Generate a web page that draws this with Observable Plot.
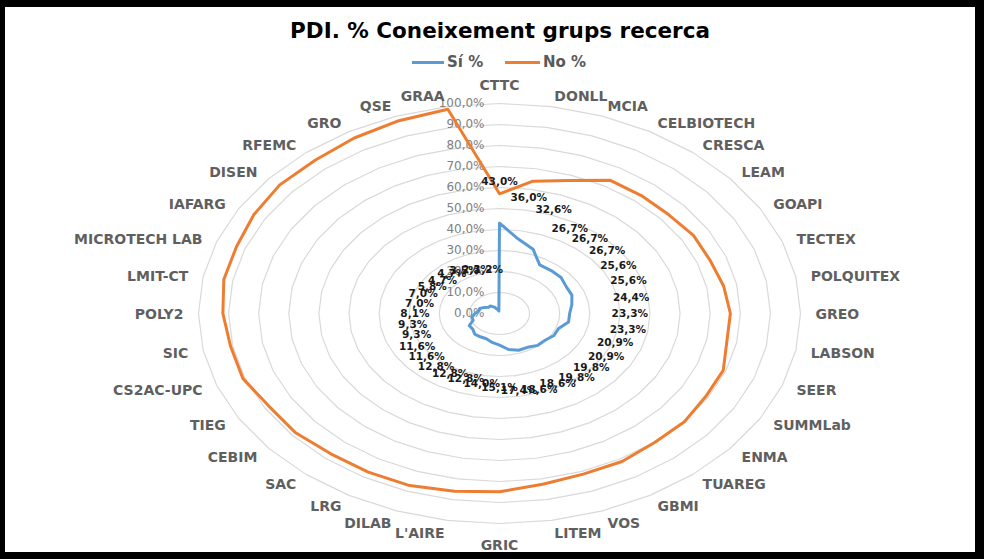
<!DOCTYPE html>
<html><head><meta charset="utf-8">
<script src="https://cdn.jsdelivr.net/npm/d3@7"></script>
<script src="https://cdn.jsdelivr.net/npm/@observablehq/plot@0.6"></script>
<style>
html,body{margin:0;padding:0;background:#000;width:984px;height:559px;overflow:hidden;font-family:"DejaVu Sans",sans-serif;}
#frame{position:absolute;left:5px;top:7px;width:970px;height:545px;background:#fff;}
#title{position:absolute;left:0;width:990px;top:11px;text-align:center;font-weight:bold;font-size:21.5px;color:#000;line-height:26px;}
.sw{position:absolute;height:3px;top:54px;}
.lt{position:absolute;top:46px;line-height:18px;font-weight:bold;font-size:15px;color:#595959;}
#chart{position:absolute;left:0;top:68px;}
</style></head>
<body><div id="frame">
<div id="title">PDI. % Coneixement grups recerca</div>
<span class="sw" style="left:407px;width:32px;background:#5b9bd5"></span><span class="lt" style="left:442px">Sí %</span>
<span class="sw" style="left:500px;width:35px;background:#ed7d31"></span><span class="lt" style="left:538px">No %</span>
<div id="chart"></div></div>
<script>
const categories = ["CTTC","DONLL","MCIA","CELBIOTECH","CRESCA","LEAM","GOAPI","TECTEX","POLQUITEX","GREO","LABSON","SEER","SUMMLab","ENMA","TUAREG","GBMI","VOS","LITEM","GRIC","L'AIRE","DILAB","LRG","SAC","CEBIM","TIEG","CS2AC-UPC","SIC","POLY2","LMIT-CT","MICROTECH LAB","IAFARG","DISEN","RFEMC","GRO","QSE","GRAA"];
const siValues = [43.0,36.0,32.6,26.7,26.7,26.7,25.6,25.6,24.4,23.3,23.3,20.9,20.9,19.8,19.8,18.6,18.6,17.4,15.1,14.0,12.8,12.8,12.8,11.6,11.6,9.3,9.3,8.1,7.0,7.0,5.8,4.7,4.7,3.5,2.3,1.2];
const noValues = [57.0,64.0,67.4,73.3,73.3,73.3,74.4,74.4,75.6,76.7,76.7,79.1,79.1,80.2,80.2,81.4,81.4,82.6,84.9,86.0,87.2,87.2,87.2,88.4,88.4,90.7,90.7,91.9,93.0,93.0,94.2,95.3,95.3,96.5,97.7,98.8];
const ringTicks = [0,10,20,30,40,50,60,70,80,90,100];
const ringLabels = ["0,0%","10,0%","20,0%","30,0%","40,0%","50,0%","60,0%","70,0%","80,0%","90,0%","100,0%"];

const W = 970, H = 476;
const cx = 494, cy = 238, rx = 301, ry = 210;
const n = categories.length;
const ang = i => i * 2 * Math.PI / n;
const pt = (i, r) => ({x: r * Math.sin(ang(i)), y: r * Math.cos(ang(i))});
const fmt = v => v.toFixed(1).replace(".", ",") + "%";

const rings = ringTicks.filter(t => t > 0).flatMap(t => categories.map((c, i) => ({ring: t, ...pt(i, t / 100)})));
const siPts = categories.map((c, i) => ({cat: c, ...pt(i, siValues[i] / 100)}));
const noPts = categories.map((c, i) => ({cat: c, ...pt(i, noValues[i] / 100)}));
const siLabels = categories.map((c, i) => ({text: fmt(siValues[i]), ...pt(i, (siValues[i] + 20) / 100)}));
const catLab = categories.map((c, i) => {
  const s = Math.sin(ang(i)), co = Math.cos(ang(i));
  const side = Math.abs(s) > 0.01;
  return {name: c, s, co, x: s * (1 + 15 / rx), y: co * (1 + (side ? 11.5 : 15) / ry) - 1.5 / ry};
});
const catStyle = {x: "x", y: "y", text: "name", fill: "#5f5f5f", fontSize: 14, fontWeight: "bold"};

const chart = Plot.plot({
  width: W, height: H, margin: 0,
  x: {domain: [-cx / rx, (W - cx) / rx], axis: null},
  y: {domain: [-(H - cy) / ry, cy / ry], axis: null},
  style: {fontFamily: "DejaVu Sans", background: "transparent", overflow: "visible"},
  marks: [
    Plot.line(rings, {x: "x", y: "y", z: "ring", curve: "linear-closed", stroke: "#d9d9d9", strokeWidth: 1.2}),
    Plot.text(ringTicks, {x: () => 0, y: d => d / 100, text: (d, i) => ringLabels[i], dx: -15, textAnchor: "end", fill: "#808080", fontSize: 12}),
    Plot.line(siPts, {x: "x", y: "y", curve: "linear-closed", stroke: "#5b9bd5", strokeWidth: 3, strokeLinejoin: "round"}),
    Plot.line(noPts, {x: "x", y: "y", curve: "linear-closed", stroke: "#ed7d31", strokeWidth: 3, strokeLinejoin: "round"}),
    Plot.text(siLabels, {x: "x", y: "y", text: "text", fill: "#1a1a1a", fontSize: 10.5, fontWeight: "bold"}),
    Plot.text(catLab.filter(d => d.s > 0.01), {...catStyle, textAnchor: "start"}),
    Plot.text(catLab.filter(d => d.s < -0.01), {...catStyle, textAnchor: "end"}),
    Plot.text(catLab.filter(d => Math.abs(d.s) <= 0.01 && d.co > 0), {...catStyle, textAnchor: "middle", lineAnchor: "bottom"}),
    Plot.text(catLab.filter(d => Math.abs(d.s) <= 0.01 && d.co < 0), {...catStyle, textAnchor: "middle", lineAnchor: "top"})
  ]
});
document.getElementById("chart").appendChild(chart);
</script>
</body></html>
